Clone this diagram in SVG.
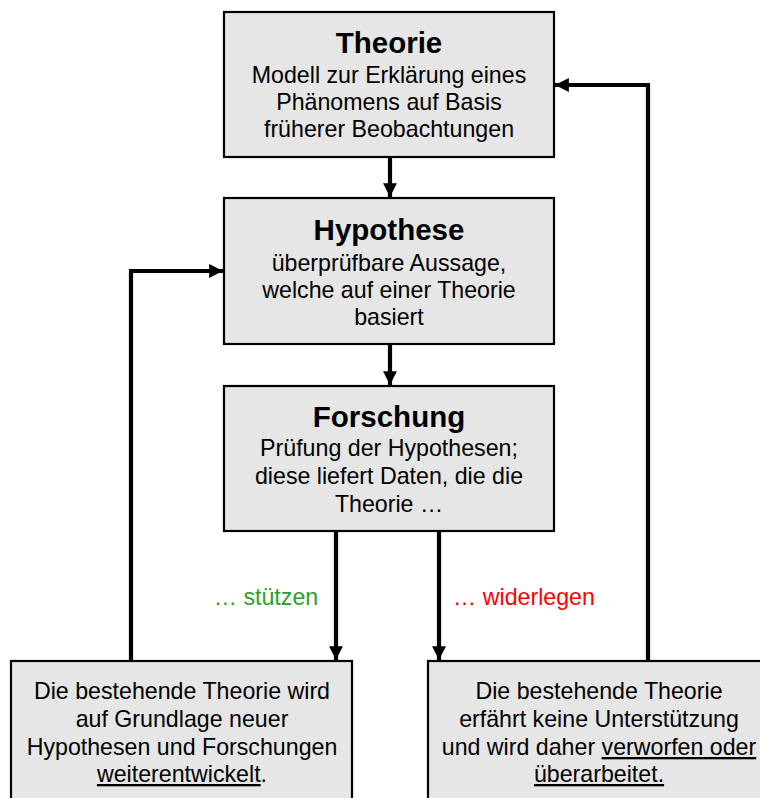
<svg xmlns="http://www.w3.org/2000/svg" width="760" height="798" viewBox="0 0 760 798">
<style>
.box{fill:#e6e6e6;stroke:#000;stroke-width:2.2}
.t{font-family:"Liberation Sans",Arial,sans-serif;font-size:23.2px;fill:#000;text-anchor:middle}
.h{font-family:"Liberation Sans",Arial,sans-serif;font-size:29.5px;font-weight:bold;fill:#000;text-anchor:middle}
.c{fill:none;stroke:#000;stroke-width:4.2}
.u{text-decoration:underline}
</style>
<defs>
<marker id="ah" viewBox="0 0 10 10" refX="10" refY="5" markerWidth="3.3" markerHeight="3.3" orient="auto" markerUnits="strokeWidth">
<path d="M0,0 L10,5 L0,10 Z" fill="#000"/>
</marker>
</defs>
<g id="connectors">
<line class="c" x1="390" y1="157" x2="390" y2="197" marker-end="url(#ah)"/>
<line class="c" x1="390" y1="344" x2="390" y2="385" marker-end="url(#ah)"/>
<line class="c" x1="336" y1="531" x2="336" y2="660" marker-end="url(#ah)"/>
<line class="c" x1="439" y1="531" x2="439" y2="660" marker-end="url(#ah)"/>
<polyline class="c" points="131,661 131,271 223,271" marker-end="url(#ah)"/>
<polyline class="c" points="648,661 648,85 555,85" marker-end="url(#ah)"/>
<text class="t" x="266" y="605" style="fill:#2ca02c">… stützen</text>
<text class="t" x="524" y="605" style="fill:#ff0000">… widerlegen</text>
</g>
<g id="theorie">
<rect class="box" x="224" y="12" width="330" height="145"/>
<text class="h" x="389" y="53">Theorie</text>
<text class="t" x="389" y="83">Modell zur Erklärung eines</text>
<text class="t" x="389" y="110">Phänomens auf Basis</text>
<text class="t" x="389" y="137">früherer Beobachtungen</text>
</g>
<g id="hypothese">
<rect class="box" x="224" y="198" width="330" height="146"/>
<text class="h" x="389" y="240">Hypothese</text>
<text class="t" x="389" y="271">überprüfbare Aussage,</text>
<text class="t" x="389" y="298">welche auf einer Theorie</text>
<text class="t" x="389" y="325">basiert</text>
</g>
<g id="forschung">
<rect class="box" x="224" y="386" width="330" height="145"/>
<text class="h" x="389" y="427">Forschung</text>
<text class="t" x="389" y="456">Prüfung der Hypothesen;</text>
<text class="t" x="389" y="484">diese liefert Daten, die die</text>
<text class="t" x="389" y="512">Theorie …</text>
</g>
<g id="weiterentwickelt">
<rect class="box" x="11" y="661" width="341" height="150"/>
<text class="t" x="182" y="699">Die bestehende Theorie wird</text>
<text class="t" x="182" y="727">auf Grundlage neuer</text>
<text class="t" x="182" y="755">Hypothesen und Forschungen</text>
<text class="t" x="182" y="782"><tspan class="u">weiterentwickelt</tspan>.</text>
</g>
<g id="verworfen">
<rect class="box" x="428" y="661" width="342" height="150"/>
<text class="t" x="599" y="699">Die bestehende Theorie</text>
<text class="t" x="599" y="727">erfährt keine Unterstützung</text>
<text class="t" x="599" y="755">und wird daher <tspan class="u">verworfen oder</tspan></text>
<text class="t" x="599" y="782"><tspan class="u">überarbeitet.</tspan></text>
</g>
</svg>
